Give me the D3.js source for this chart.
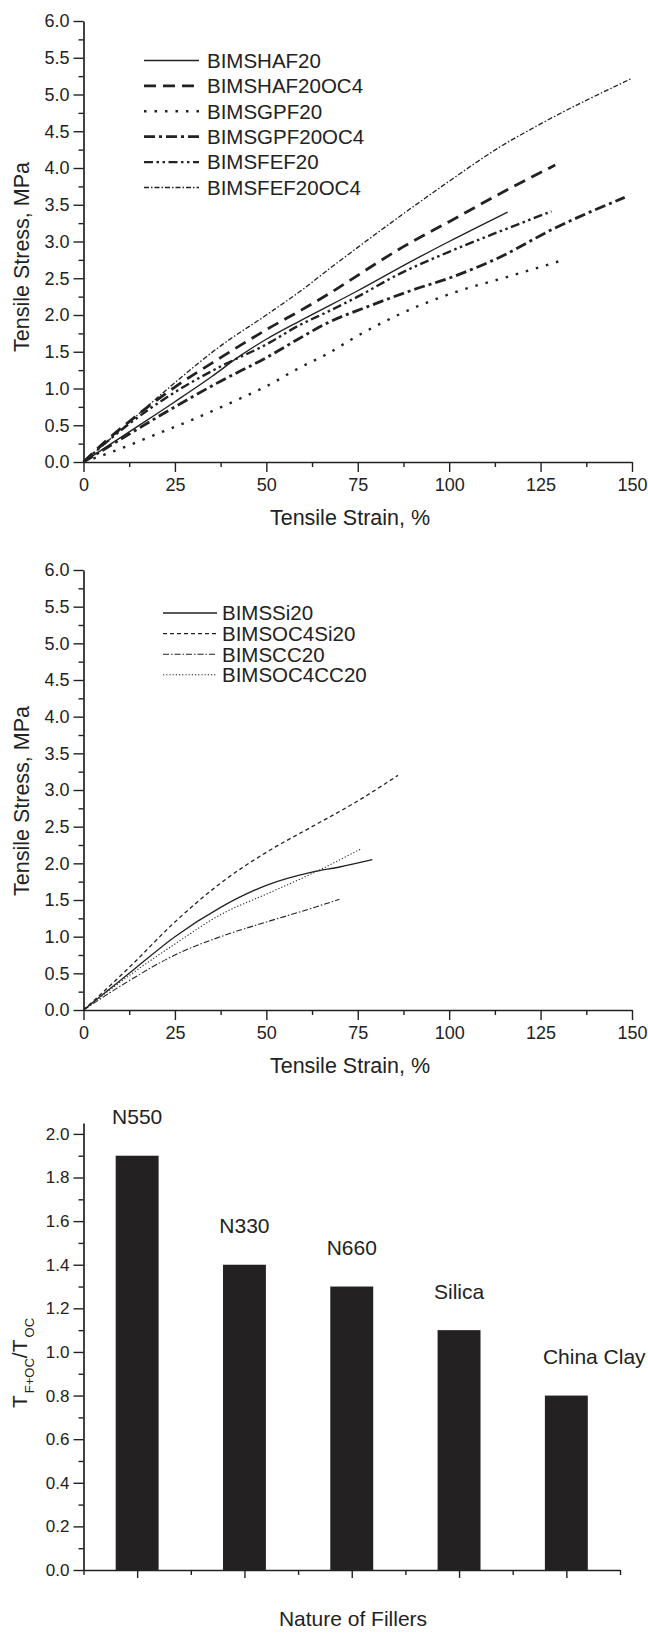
<!DOCTYPE html>
<html>
<head>
<meta charset="utf-8">
<script src="https://cdn.jsdelivr.net/npm/d3@7"></script>
<style>
  body { margin: 0; background: #fff; }
  svg text { font-family: "Liberation Sans", Arial, Helvetica, sans-serif; fill: #222; }
</style>
</head>
<body>
<svg id="fig" width="648" height="1635"></svg>
<script>
// ---- Panel (a): tensile stress (MPa) vs strain (%) for carbon-black / OC4 blends ----
const BIMSHAF20     = [[0,0],[12.5,0.41],[25,0.82],[35,1.16],[43,1.45],[50,1.67],[60,1.94],[75,2.33],[90,2.74],[100,3.0],[116,3.4]];
const BIMSHAF20OC4  = [[0,0],[6,0.28],[12.5,0.55],[25,1.02],[37.5,1.42],[50,1.8],[60,2.08],[67.5,2.3],[75,2.54],[87.5,2.93],[100,3.27],[115,3.68],[129,4.04]];
const BIMSGPF20     = [[0,0],[9,0.16],[19,0.36],[30,0.58],[44,0.89],[50,1.03],[59,1.28],[67,1.48],[73,1.66],[86,2.0],[101,2.3],[116,2.52],[130,2.73]];
const BIMSGPF20OC4  = [[0,0],[12.5,0.38],[25,0.75],[37.5,1.1],[50,1.42],[59,1.68],[67,1.9],[77,2.1],[90,2.34],[101,2.52],[114,2.79],[128,3.16],[148,3.6]];
const BIMSFEF20     = [[0,0],[12.5,0.52],[25,0.95],[37.5,1.3],[50,1.6],[59,1.86],[67,2.05],[75,2.25],[86,2.55],[100,2.86],[114,3.14],[128,3.41]];
const BIMSFEF20OC4  = [[0,0],[10,0.43],[25,1.08],[37.5,1.58],[50,2.0],[60,2.35],[67,2.62],[75,2.92],[87,3.36],[100,3.82],[114,4.29],[125,4.6],[150,5.22]];

// ---- Panel (b): silica / china clay blends ----
const BIMSSi20      = [[0,0],[12.5,0.5],[25,1.0],[37.5,1.4],[50,1.7],[62.5,1.88],[70,1.95],[79,2.05]];
const BIMSOC4Si20   = [[0,0],[12.5,0.58],[25,1.2],[37.5,1.73],[50,2.15],[62.5,2.5],[75,2.85],[86,3.2]];
const BIMSCC20      = [[0,0],[12.5,0.4],[25,0.75],[37.5,1.0],[50,1.2],[60,1.35],[70,1.51]];
const BIMSOC4CC20   = [[0,0],[12.5,0.47],[25,0.9],[37.5,1.3],[50,1.58],[62.5,1.86],[76,2.2]];

// ---- Panel (c): strength ratio T(F+OC)/T(OC) by filler ----
const fillers = ["N550", "N330", "N660", "Silica", "China Clay"];
const ratio   = [1.9, 1.4, 1.3, 1.1, 0.8];

// tick values
const strainTicks = [0, 25, 50, 75, 100, 125, 150];
const stressTicks = d3.range(0, 6.01, 0.5);
const ratioTicks  = d3.range(0, 2.01, 0.2);

// series lists for the two line panels
const panelA = [
  {name: "BIMSHAF20",    data: BIMSHAF20},
  {name: "BIMSHAF20OC4", data: BIMSHAF20OC4},
  {name: "BIMSGPF20",    data: BIMSGPF20},
  {name: "BIMSGPF20OC4", data: BIMSGPF20OC4},
  {name: "BIMSFEF20",    data: BIMSFEF20},
  {name: "BIMSFEF20OC4", data: BIMSFEF20OC4}
];
const panelB = [
  {name: "BIMSSi20",    data: BIMSSi20},
  {name: "BIMSOC4Si20", data: BIMSOC4Si20},
  {name: "BIMSCC20",    data: BIMSCC20},
  {name: "BIMSOC4CC20", data: BIMSOC4CC20}
];

// line styles (width, dash pattern)
const styles = {
  BIMSHAF20:    {w: 1.4, dash: null},
  BIMSHAF20OC4: {w: 2.8, dash: "12,7"},
  BIMSGPF20:    {w: 2.4, dash: "2.5,8"},
  BIMSGPF20OC4: {w: 2.8, dash: "11,4,3,4"},
  BIMSFEF20:    {w: 2.4, dash: "9,3.5,2.5,3.5,2.5,3.5"},
  BIMSFEF20OC4: {w: 1.3, dash: "5,2,1.5,2"},
  BIMSSi20:     {w: 1.3, dash: null},
  BIMSOC4Si20:  {w: 1.3, dash: "4,3"},
  BIMSCC20:     {w: 1.1, dash: "6,2,1.5,2"},
  BIMSOC4CC20:  {w: 1.1, dash: "1.2,2"}
};

const ink = "#222";
const svg = d3.select("#fig");

function styleAxis(sel, fs) {
  sel.select(".domain").attr("stroke", ink).attr("stroke-width", 1.7);
  sel.selectAll(".tick line").attr("stroke", ink).attr("stroke-width", 1.4);
  sel.selectAll(".tick text").attr("font-size", fs);
}

function drawAxes(x, y, opt) {
  const [x0] = x.range();
  const [y0] = y.range();
  // y axis
  const ya = svg.append("g").attr("transform", `translate(${x0},0)`)
    .call(d3.axisLeft(y).tickValues(opt.yMajor).tickSize(10).tickPadding(4)
      .tickSizeOuter(0).tickFormat(opt.yFmt));
  styleAxis(ya, opt.fs);
  const ym = svg.append("g").attr("transform", `translate(${x0},0)`)
    .call(d3.axisLeft(y).tickValues(opt.yMinor).tickSize(5).tickSizeOuter(0).tickFormat(""));
  ym.select(".domain").remove();
  styleAxis(ym, opt.fs);
  // x axis
  const xa = svg.append("g").attr("transform", `translate(0,${y0})`)
    .call(d3.axisBottom(x).tickValues(opt.xMajor).tickSize(opt.xTick).tickPadding(6)
      .tickSizeOuter(0).tickFormat(opt.xFmt));
  styleAxis(xa, opt.fs);
  const xm = svg.append("g").attr("transform", `translate(0,${y0})`)
    .call(d3.axisBottom(x).tickValues(opt.xMinor).tickSize(5).tickSizeOuter(0).tickFormat(""));
  xm.select(".domain").remove();
  styleAxis(xm, opt.fs);
}

function minorBetween(major, step) {
  const out = [];
  for (let i = 0; i < major.length - 1; i++) out.push(major[i] + step);
  return out;
}

function linePanel(series, yTop, yBot, legend, titles) {
  const x = d3.scaleLinear().domain([0, 150]).range([83.5, 632]);
  const y = d3.scaleLinear().domain([0, 6]).range([yBot, yTop]);

  drawAxes(x, y, {
    yMajor: stressTicks, yMinor: minorBetween(stressTicks, 0.25), yFmt: d3.format(".1f"),
    xMajor: strainTicks, xMinor: minorBetween(strainTicks, 12.5), xFmt: d3.format("d"),
    xTick: 10, fs: 18
  });

  const line = d3.line().x(d => x(d[0])).y(d => y(d[1])).curve(d3.curveMonotoneX);
  svg.append("g").selectAll("path").data(series).join("path")
    .attr("d", d => line(d.data))
    .attr("fill", "none").attr("stroke", ink)
    .attr("stroke-width", d => styles[d.name].w)
    .attr("stroke-dasharray", d => styles[d.name].dash);

  // legend
  const lg = svg.append("g");
  series.forEach((s, i) => {
    const ry = legend.y + i * legend.dy;
    lg.append("line").attr("x1", legend.x1).attr("x2", legend.x2).attr("y1", ry).attr("y2", ry)
      .attr("stroke", ink).attr("stroke-width", styles[s.name].w)
      .attr("stroke-dasharray", styles[s.name].dash);
    lg.append("text").attr("x", legend.tx).attr("y", ry).attr("dy", "0.36em")
      .attr("font-size", 20.5).text(s.name);
  });

  svg.append("text").attr("transform", `translate(29,${titles.yc}) rotate(-90)`)
    .attr("text-anchor", "middle").attr("font-size", 21.5).text("Tensile Stress, MPa");
  svg.append("text").attr("x", 350).attr("y", yBot + 55).attr("dy", "0.36em")
    .attr("text-anchor", "middle").attr("font-size", 21.5).text("Tensile Strain, %");
}

linePanel(panelA, 21, 462, {x1: 144, x2: 199, tx: 207, y: 60.5, dy: 25.4}, {yc: 257});
linePanel(panelB, 570, 1010, {x1: 163, x2: 217, tx: 222, y: 613, dy: 20.6}, {yc: 801});

// ---- Panel (c) ----
(function () {
  const x = d3.scaleLinear().domain([0.5, 5.5]).range([83.5, 620]);
  const y = d3.scaleLinear().domain([0, 2.05]).range([1570, 1123]);
  const pos = fillers.map((f, i) => i + 1);

  drawAxes(x, y, {
    yMajor: ratioTicks, yMinor: minorBetween(ratioTicks, 0.1), yFmt: d3.format(".1f"),
    xMajor: pos, xMinor: [0.5, 1.5, 2.5, 3.5, 4.5, 5.5], xFmt: () => "",
    xTick: 8, fs: 17
  });

  const halfW = 0.2;
  svg.append("g").selectAll("rect").data(ratio).join("rect")
    .attr("x", (d, i) => x(pos[i] - halfW))
    .attr("width", (d, i) => x(pos[i] + halfW) - x(pos[i] - halfW))
    .attr("y", d => y(d))
    .attr("height", d => y(0) - y(d))
    .attr("fill", "#242122");

  const labels = svg.append("g").selectAll("text").data(ratio).join("text")
    .attr("x", (d, i) => x(pos[i]))
    .attr("y", d => y(d) - 39)
    .attr("dy", "0.36em")
    .attr("text-anchor", "middle")
    .attr("font-size", 21)
    .text((d, i) => fillers[i]);
  // wide labels start at the bar's left edge instead of centring
  labels.each(function (d, i) {
    const w = this.getComputedTextLength();
    const barW = x(pos[i] + halfW) - x(pos[i] - halfW);
    if (w > 1.6 * barW) {
      d3.select(this).attr("text-anchor", "start").attr("x", x(pos[i] - halfW) - 2);
    }
  });

  // y title: T_{F+OC}/T_{OC}
  const t = svg.append("text").attr("transform", "translate(27,1408) rotate(-90)")
    .attr("font-size", 21);
  t.append("tspan").text("T");
  t.append("tspan").attr("font-size", 13).attr("dx", 2).attr("dy", 7).text("F+OC");
  t.append("tspan").attr("dy", -7).text("/T");
  t.append("tspan").attr("font-size", 13).attr("dx", 2).attr("dy", 7).text("OC");

  svg.append("text").attr("x", 353).attr("y", 1618).attr("dy", "0.36em")
    .attr("text-anchor", "middle").attr("font-size", 21).text("Nature of Fillers");
})();
</script>
</body>
</html>
